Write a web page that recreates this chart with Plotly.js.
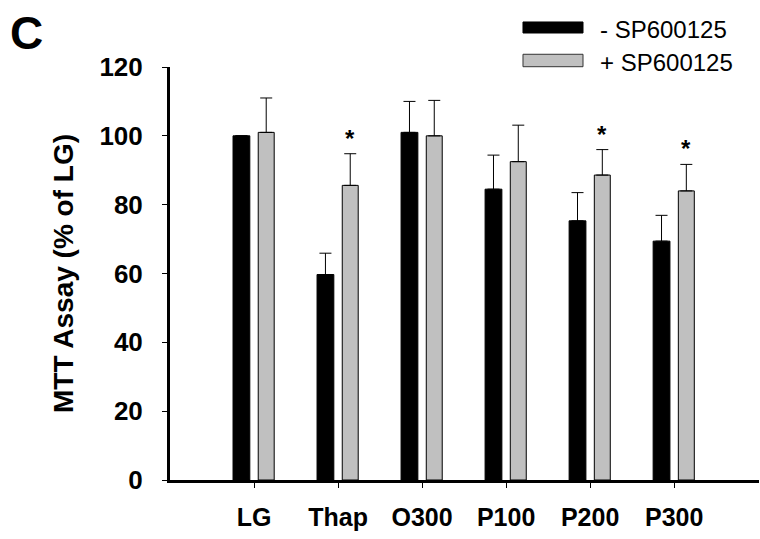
<!DOCTYPE html>
<html>
<head>
<meta charset="utf-8">
<script src="https://cdn.plot.ly/plotly-3.0.1.min.js"></script>
<style>html,body{margin:0;padding:0;background:#fff;}#chart{width:760px;height:539px;}</style>
</head>
<body>
<div id="chart"></div>
<script>
const categories = ['LG', 'Thap', 'O300', 'P100', 'P200', 'P300'];
const minusSP = [100, 59.7, 101, 84.5, 75.3, 69.4];
const minusSPErr = [0, 6.2, 9.0, 9.9, 8.2, 7.5];
const plusSP = [101, 85.6, 100, 92.5, 88.6, 84.0];
const plusSPErr = [10.0, 9.2, 10.3, 10.6, 7.4, 7.7];
const significant = [false, true, false, false, true, true];
const seriesNames = ['- SP600125', '+ SP600125'];
const yTicks = [0, 20, 40, 60, 80, 100, 120];

const xIdx = categories.map((c, i) => i);
const FONT = 'Liberation Sans, Arial, sans-serif';

const traceMinus = {
  type: 'bar', name: seriesNames[0], x: xIdx, y: minusSP,
  width: 0.2, offset: -0.25,
  marker: {color: '#000000', line: {color: '#000000', width: 1}},
  error_y: {type: 'data', symmetric: false, array: minusSPErr, arrayminus: minusSPErr.map(() => 0),
            color: '#000000', thickness: 1, width: 6},
  showlegend: false
};
const tracePlus = {
  type: 'bar', name: seriesNames[1], x: xIdx, y: plusSP,
  width: 0.19, offset: 0.05,
  marker: {color: '#c0c0c0', line: {color: '#000000', width: 1}},
  error_y: {type: 'data', symmetric: false, array: plusSPErr, arrayminus: plusSPErr.map(() => 0),
            color: '#000000', thickness: 1, width: 6},
  showlegend: false
};

const annotations = [];
significant.forEach((s, i) => {
  if (s) {
    annotations.push({
      x: i + 0.145, y: plusSP[i] + plusSPErr[i], xref: 'x', yref: 'y',
      text: '<b>*</b>', showarrow: false, xanchor: 'center', yanchor: 'bottom', yshift: 0,
      font: {family: FONT, size: 24, color: '#000'}
    });
  }
});
annotations.push({
  x: -0.243, y: 1.082, xref: 'paper', yref: 'paper', text: '<b>C</b>', showarrow: false,
  xanchor: 'center', yanchor: 'middle', font: {family: FONT, size: 46, color: '#000'}
});
annotations.push({
  x: 0.7267, y: 1.092, xref: 'paper', yref: 'paper', text: seriesNames[0], showarrow: false,
  xanchor: 'left', yanchor: 'middle', font: {family: FONT, size: 24, color: '#000'}
});
annotations.push({
  x: 0.7267, y: 1.012, xref: 'paper', yref: 'paper', text: seriesNames[1], showarrow: false,
  xanchor: 'left', yanchor: 'middle', font: {family: FONT, size: 24, color: '#000'}
});

const shapes = [
  {type: 'rect', xref: 'paper', yref: 'paper', x0: 0.5993, x1: 0.7012, y0: 1.0823, y1: 1.109,
   fillcolor: '#000000', line: {color: '#000000', width: 1}},
  {type: 'rect', xref: 'paper', yref: 'paper', x0: 0.5993, x1: 0.7012, y0: 1.0007, y1: 1.0308,
   fillcolor: '#c0c0c0', line: {color: '#333333', width: 1}}
];

const layout = {
  width: 760, height: 539,
  margin: {l: 170, r: 1, t: 67, b: 59},
  paper_bgcolor: '#ffffff', plot_bgcolor: '#ffffff',
  barmode: 'overlay',
  font: {family: FONT, color: '#000'},
  xaxis: {
    range: [-1, 6.01], tickvals: xIdx, ticktext: categories,
    showline: true, linewidth: 3, linecolor: '#000', mirror: false,
    ticks: 'outside', ticklen: 5, tickwidth: 1, tickcolor: '#000',
    showgrid: false, zeroline: false,
    tickfont: {family: FONT, size: 25, weight: 'bold', color: '#000'},
    ticklabelstandoff: 8
  },
  yaxis: {
    range: [0, 120], tickvals: yTicks,
    showline: true, linewidth: 3, linecolor: '#000',
    ticks: 'outside', ticklen: 5, tickwidth: 1, tickcolor: '#000',
    showgrid: false, zeroline: false,
    tickfont: {family: FONT, size: 26, weight: 'bold', color: '#000'},
    ticklabelstandoff: 14,
    title: {text: 'MTT Assay (% of LG)', standoff: 18,
            font: {family: FONT, size: 28, weight: 'bold', color: '#000'}}
  },
  annotations: annotations,
  shapes: shapes,
  showlegend: false
};

Plotly.newPlot('chart', [traceMinus, tracePlus], layout, {displayModeBar: false, staticPlot: true});
</script>
</body>
</html>
